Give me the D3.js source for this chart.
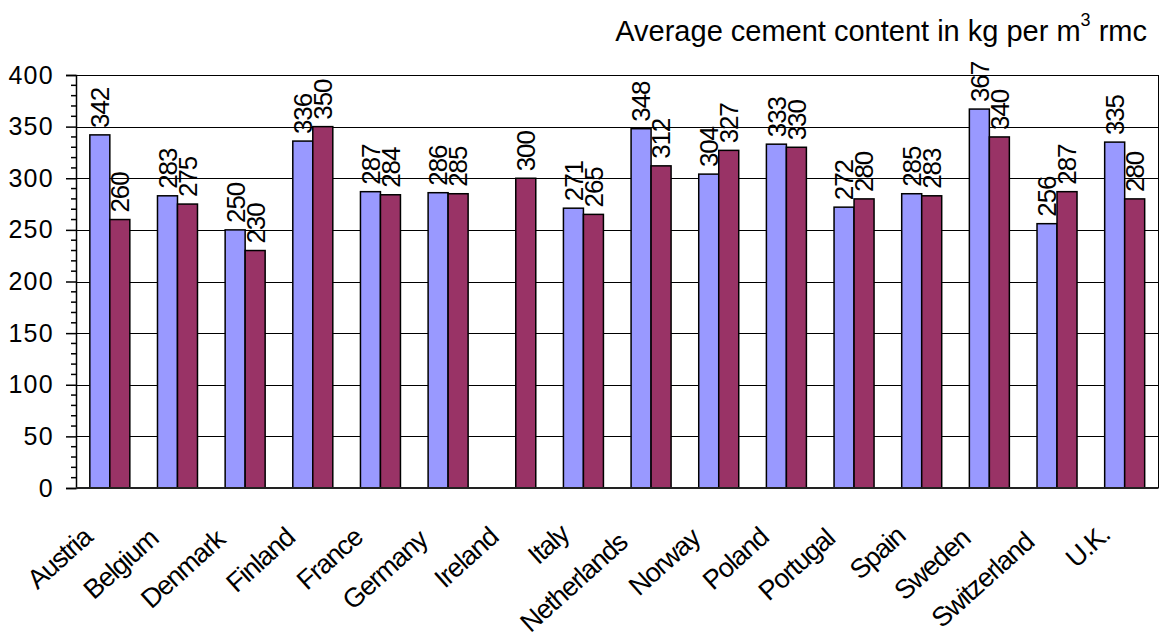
<!DOCTYPE html>
<html><head><meta charset="utf-8">
<script src="https://cdn.jsdelivr.net/npm/d3@7"></script>
<style>
html,body{margin:0;padding:0;background:#fff;}
text{font-family:Arial,"Liberation Sans",sans-serif;fill:#000;}
</style></head>
<body>
<svg id="chart" width="1160" height="637"></svg>
<script>
const categories = ["Austria","Belgium","Denmark","Finland","France","Germany","Ireland","Italy","Netherlands","Norway","Poland","Portugal","Spain","Sweden","Switzerland","U.K."];
const series1 = [342,283,250,336,287,286,null,271,348,304,333,272,285,367,256,335];
const series2 = [260,275,230,350,284,285,300,265,312,327,330,280,283,340,287,280];
const yTicks = [0,50,100,150,200,250,300,350,400];
const colors = ["#9999FF","#993366"];

const svg = d3.select("#chart");
const L = 76, R = 1158.5, T = 75, B = 488;

const x = d3.scaleBand().domain(categories).range([L, R]).paddingInner(0).paddingOuter(0);
const y = d3.scaleLinear().domain([0,400]).range([B, T]);
const barW = 20;

// gridlines
svg.append("g").selectAll("line").data(yTicks.filter(d=>d>0)).join("line")
  .attr("x1", L).attr("x2", R).attr("y1", d=>Math.round(y(d))+0.5).attr("y2", d=>Math.round(y(d))+0.5)
  .attr("stroke","#000").attr("stroke-width",1);
// right border
svg.append("line").attr("x1",R).attr("x2",R).attr("y1",T).attr("y2",B).attr("stroke","#000").attr("stroke-width",1);

const data = [];
categories.forEach((c,i)=>{
  [series1[i], series2[i]].forEach((v,s)=>{ if(v!=null) data.push({c, v, s}); });
});

const gx = d => x(d.c) + x.bandwidth()/2 - barW + d.s*barW;

svg.append("g").selectAll("rect").data(data).join("rect")
  .attr("x", d=>gx(d)).attr("width", barW)
  .attr("y", d=>y(d.v)).attr("height", d=>y(0)-y(d.v))
  .attr("fill", d=>colors[d.s]).attr("stroke","#000").attr("stroke-width",1.5);

// value labels
svg.append("g").selectAll("text").data(data).join("text")
  .attr("transform", d=>`translate(${gx(d)+barW/2},${y(d.v)-7}) rotate(-90)`)
  .attr("dy","0.36em").attr("text-anchor","start")
  .style("font-size","26px").style("letter-spacing","-1.1px").text(d=>d.v);

// y axis
const yAxis = d3.axisLeft(y).tickValues(yTicks).tickSize(10).tickPadding(12);
const gy = svg.append("g").attr("transform",`translate(${L},0)`).call(yAxis);
gy.select(".domain").attr("stroke","#000").attr("stroke-width",1.5);
gy.selectAll(".tick line").attr("stroke","#000").attr("stroke-width",1.5);
gy.selectAll(".tick text").style("font-size","25px").style("letter-spacing","1.3px")
  .style("font-family","Arial,'Liberation Sans',sans-serif").attr("fill","#000");
// minor ticks
const minor = d3.range(0,401,10).filter(d=>d%50!==0);
svg.append("g").selectAll("line").data(minor).join("line")
  .attr("x1",L-5).attr("x2",L).attr("y1",d=>y(d)).attr("y2",d=>y(d))
  .attr("stroke","#000").attr("stroke-width",1.5);

// x axis line
svg.append("line").attr("x1",L).attr("x2",R).attr("y1",B).attr("y2",B).attr("stroke","#222").attr("stroke-width",2);

// category labels
svg.append("g").selectAll("text").data(categories).join("text")
  .attr("text-anchor","end").style("font-size","27px").style("letter-spacing","-1.2px").text(d=>d)
  .each(function(d){
    const len = this.getComputedTextLength();
    d3.select(this)
      .attr("transform", `translate(${x(d)+x.bandwidth()/2-8.3},532.6) rotate(-42)`)
      .attr("dx", -0.14*len);
  });

// title
const t = svg.append("text").attr("x",1147).attr("y",41).attr("text-anchor","end").style("font-size","29px");
t.append("tspan").text("Average cement content in kg per m");
t.append("tspan").attr("dy",-15).style("font-size","18px").text("3");
t.append("tspan").attr("dy",15).text(" rmc");
</script>
</body></html>
